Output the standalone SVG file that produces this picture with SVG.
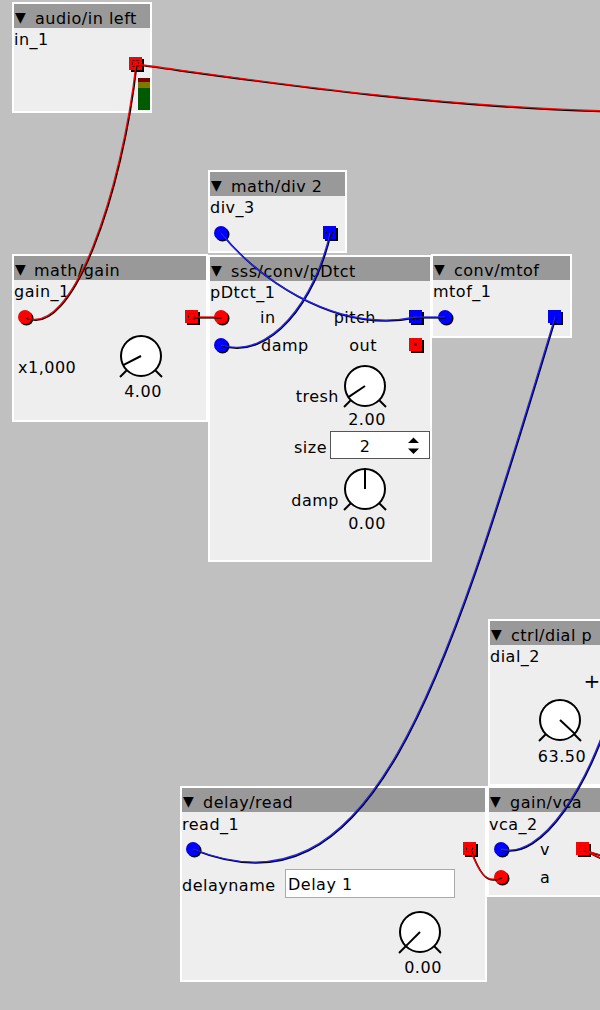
<svg xmlns="http://www.w3.org/2000/svg" width="600" height="1010" viewBox="0 0 600 1010">
<style>
.frame{fill:#fff}
.body{fill:#eee}
.title{fill:#999}
.t{font-family:"DejaVu Sans","Liberation Sans",sans-serif;font-size:16px;letter-spacing:0.5px;fill:#000}
.tri{font-family:"DejaVu Sans","Liberation Sans",sans-serif;font-size:14px;fill:#000}
.mid{text-anchor:middle}
.end{text-anchor:end}
.sh{fill:#000}
.red{fill:#f00}
.blue{fill:#00f}
.dash{fill:none;stroke:#000;stroke-width:1;stroke-dasharray:2 2}
.kn{fill:#fff;stroke:#000;stroke-width:2}
.kl{stroke:#000;stroke-width:2;stroke-linecap:butt}
.wsh{fill:none;stroke:#000;stroke-width:1.6}
.wr{fill:none;stroke:#f00;stroke-width:1.3}
.wb{fill:none;stroke:#22f;stroke-width:1.3}
</style>
<defs>
<g id="knob">
<circle r="20" class="kn"/>
<line x1="-14" y1="14" x2="-21" y2="21" class="kl"/>
<line x1="14" y1="14" x2="21" y2="21" class="kl"/>
</g>
<g id="inR"><circle cx="1.5" cy="1.5" r="7" class="sh"/><circle r="7" class="red"/></g>
<g id="inB"><circle cx="1.5" cy="1.5" r="7" class="sh"/><circle r="7" class="blue"/></g>
<g id="outR"><rect x="2" y="2" width="13" height="13" class="sh"/><rect width="13" height="13" class="red"/><rect x="3.5" y="3.5" width="6" height="6" class="dash"/></g>
<g id="outB"><rect x="2" y="2" width="13" height="13" class="sh"/><rect width="13" height="13" class="blue"/><rect x="3.5" y="3.5" width="6" height="6" class="dash"/></g>
<g id="outRu"><rect x="2" y="2" width="13" height="13" class="sh"/><rect width="13" height="13" class="red"/><rect x="5.5" y="5.5" width="2" height="2" class="sh"/></g>
</defs>
<rect width="600" height="1010" fill="#c0c0c0"/>

<g id="audio_in_left">
<rect x="12" y="2" width="140" height="111" class="frame"/>
<rect x="14" y="4" width="136" height="107" class="body"/>
<rect x="14" y="4" width="136" height="24" class="title"/>
<text x="15" y="22" class="tri">▼</text><text x="35" y="24" class="t">audio/in left</text>
<text x="14" y="45" class="t">in_1</text>
<use href="#outR" x="129" y="57"/>
<rect x="138" y="78" width="12" height="4" fill="#7a0000"/>
<rect x="138" y="82" width="12" height="6" fill="#7a7a00"/>
<rect x="138" y="88" width="12" height="22" fill="#005a00"/>
</g>

<g id="math_div_2">
<rect x="208" y="170" width="139" height="83" class="frame"/>
<rect x="210" y="172" width="135" height="79" class="body"/>
<rect x="210" y="172" width="135" height="24" class="title"/>
<text x="211" y="190" class="tri">▼</text><text x="231" y="192" class="t">math/div 2</text>
<text x="210" y="213" class="t">div_3</text>
<use href="#inB" x="221" y="233"/>
<use href="#outB" x="323" y="226"/>
</g>

<g id="math_gain">
<rect x="12" y="254" width="196" height="168" class="frame"/>
<rect x="14" y="256" width="192" height="164" class="body"/>
<rect x="14" y="256" width="192" height="24" class="title"/>
<text x="15" y="274" class="tri">▼</text><text x="34" y="276" class="t">math/gain</text>
<text x="14" y="297" class="t">gain_1</text>
<use href="#inR" x="25" y="317"/>
<use href="#outR" x="185" y="310"/>
<text x="18" y="373" class="t">x1,000</text>
<use href="#knob" x="141" y="356"/>
<line x1="141" y1="356" x2="141" y2="336" class="kl" transform="rotate(-117 141 356)"/>
<text x="143" y="397" class="t mid">4.00</text>
</g>

<g id="sss_conv_pDtct">
<rect x="208" y="255" width="224" height="307" class="frame"/>
<rect x="210" y="257" width="220" height="303" class="body"/>
<rect x="210" y="257" width="220" height="24" class="title"/>
<text x="211" y="275" class="tri">▼</text><text x="231" y="277" class="t">sss/conv/pDtct</text>
<text x="210" y="298" class="t">pDtct_1</text>
<use href="#inR" x="221" y="317"/>
<use href="#inB" x="221" y="345"/>
<text x="260" y="323" class="t">in</text>
<text x="261" y="351" class="t">damp</text>
<text x="376" y="323" class="t end">pitch</text>
<text x="377" y="351" class="t end">out</text>
<use href="#outB" x="409" y="310"/>
<use href="#outRu" x="409" y="338"/>
<text x="339" y="402" class="t end">tresh</text>
<use href="#knob" x="365" y="386"/>
<line x1="365" y1="386" x2="365" y2="366" class="kl" transform="rotate(-124 365 386)"/>
<text x="367" y="425" class="t mid">2.00</text>
<text x="327" y="453" class="t end">size</text>
<rect x="330.5" y="431.5" width="99" height="27" fill="#fff" stroke="#555" stroke-width="1"/>
<text x="365" y="452" class="t mid">2</text>
<path d="M408 443 L413.5 437.5 L419 443 Z M408 448.5 L413.5 454 L419 448.5 Z" fill="#000"/>
<text x="339" y="506" class="t end">damp</text>
<use href="#knob" x="365" y="489"/>
<line x1="365" y1="489" x2="365" y2="468" class="kl"/>
<text x="367" y="529" class="t mid">0.00</text>
</g>

<g id="conv_mtof">
<rect x="431" y="254" width="141" height="84" class="frame"/>
<rect x="433" y="256" width="137" height="80" class="body"/>
<rect x="433" y="256" width="137" height="24" class="title"/>
<text x="434" y="274" class="tri">▼</text><text x="454" y="276" class="t">conv/mtof</text>
<text x="433" y="297" class="t">mtof_1</text>
<use href="#inB" x="445" y="317"/>
<use href="#outB" x="548" y="310"/>
</g>

<g id="ctrl_dial_p">
<rect x="488" y="619" width="130" height="167" class="frame"/>
<rect x="490" y="621" width="126" height="163" class="body"/>
<rect x="490" y="621" width="126" height="24" class="title"/>
<text x="491" y="639" class="tri">▼</text><text x="511" y="641" class="t">ctrl/dial p</text>
<text x="490" y="662" class="t">dial_2</text>
<text x="592" y="688" class="mid" style="font-family:'DejaVu Sans','Liberation Sans',sans-serif;font-size:20px;fill:#000">+</text>
<use href="#knob" x="560" y="720"/>
<line x1="560" y1="720" x2="560" y2="700" class="kl" transform="rotate(133 560 720)"/>
<text x="562" y="762" class="t mid">63.50</text>
</g>

<g id="gain_vca">
<rect x="487" y="786" width="130" height="111" class="frame"/>
<rect x="489" y="788" width="126" height="107" class="body"/>
<rect x="489" y="788" width="126" height="24" class="title"/>
<text x="490" y="806" class="tri">▼</text><text x="510" y="808" class="t">gain/vca</text>
<text x="489" y="830" class="t">vca_2</text>
<use href="#inB" x="501" y="849"/>
<use href="#inR" x="501" y="877"/>
<text x="540" y="855" class="t">v</text>
<text x="540" y="883" class="t">a</text>
<use href="#outR" x="576" y="842"/>
</g>

<g id="delay_read">
<rect x="180" y="786" width="307" height="196" class="frame"/>
<rect x="182" y="788" width="303" height="192" class="body"/>
<rect x="182" y="788" width="303" height="24" class="title"/>
<text x="183" y="806" class="tri">▼</text><text x="203" y="808" class="t">delay/read</text>
<text x="182" y="830" class="t">read_1</text>
<use href="#inB" x="193" y="849"/>
<use href="#outR" x="463" y="842"/>
<text x="182" y="891" class="t">delayname</text>
<rect x="285.5" y="869.5" width="169" height="28" fill="#fff" stroke="#aaa" stroke-width="1"/>
<text x="288" y="890" class="t">Delay 1</text>
<use href="#knob" x="420" y="932"/>
<line x1="420" y1="932" x2="420" y2="912" class="kl" transform="rotate(-135 420 932)"/>
<text x="423" y="973" class="t mid">0.00</text>
</g>

<g id="connectors">
<g transform="translate(0.8 0.8)" class="wsh">
<path d="M136 64 C240 78 420 106 610 111"/>
<path d="M136 64 C122 190 72 340 25 317"/>
<path d="M192 317 L221 317"/>
<path d="M330 233 C315 300 270 360 221 345"/>
<path d="M416 317 C330 335 250 270 221 233"/>
<path d="M416 317 L445 317"/>
<path d="M555 317 C440 700 370 920 193 849"/>
<path d="M501 849 C540 860 590 790 620 680"/>
<path d="M470 849 C478 870 485 885 501 877"/>
<path d="M583 849 C590 852 598 855 610 857"/>
<path d="M583 849 C590 853 598 858 610 861"/>
</g>
<path class="wr" d="M136 64 C240 78 420 106 610 111"/>
<path class="wr" d="M136 64 C122 190 72 340 25 317"/>
<path class="wr" d="M192 317 L221 317"/>
<path class="wb" d="M330 233 C315 300 270 360 221 345"/>
<path class="wb" d="M416 317 C330 335 250 270 221 233"/>
<path class="wb" d="M416 317 L445 317"/>
<path class="wb" d="M555 317 C440 700 370 920 193 849"/>
<path class="wb" d="M501 849 C540 860 590 790 620 680"/>
<path class="wr" d="M470 849 C478 870 485 885 501 877"/>
<path class="wr" d="M583 849 C590 852 598 855 610 857"/>
<path class="wr" d="M583 849 C590 853 598 858 610 861"/>
</g>
</svg>
